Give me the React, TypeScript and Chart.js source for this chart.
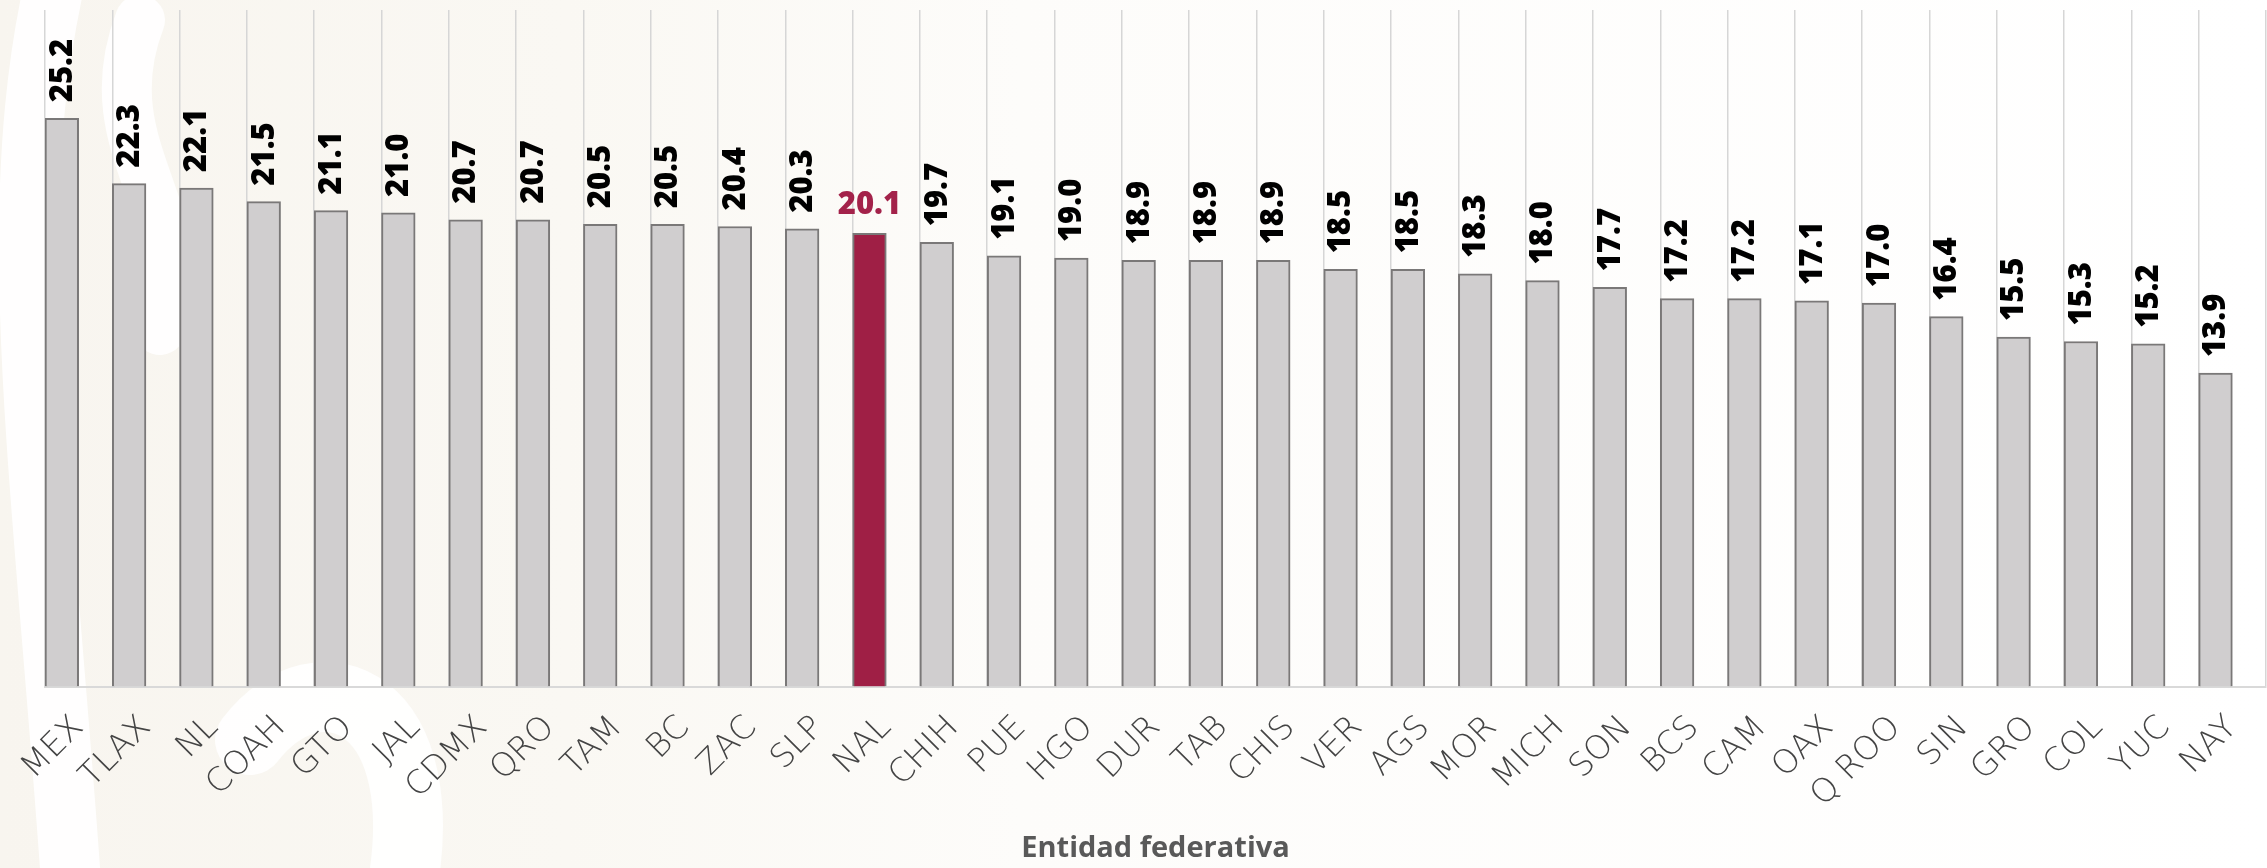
import React, { useEffect, useRef } from "react";
import { Chart, registerables } from "chart.js";

Chart.register(...registerables);

const categories = [
  "MEX", "TLAX", "NL", "COAH", "GTO", "JAL", "CDMX", "QRO", "TAM", "BC", "ZAC",
  "SLP", "NAL", "CHIH", "PUE", "HGO", "DUR", "TAB", "CHIS", "VER", "AGS", "MOR",
  "MICH", "SON", "BCS", "CAM", "OAX", "Q ROO", "SIN", "GRO", "COL", "YUC", "NAY",
];
const values = [
  25.2, 22.3, 22.1, 21.5, 21.1, 21.0, 20.7, 20.7, 20.5, 20.5, 20.4,
  20.3, 20.1, 19.7, 19.1, 19.0, 18.9, 18.9, 18.9, 18.5, 18.5, 18.3,
  18.0, 17.7, 17.2, 17.2, 17.1, 17.0, 16.4, 15.5, 15.3, 15.2, 13.9,
];
const highlightCategory = "NAL";
const xAxisTitle = "Entidad federativa";
const yMin = 0;
const yMax = 30;

const GRAY_FILL = "#d0cecf";
const GRAY_BORDER = "#7a7878";
const CRIMSON = "#9f1f45";
const CRIMSON_TEXT = "#a3224a";

const backgroundPlugin = {
  id: "bgPattern",
  beforeDraw(chart: any) {
    const { ctx, width, height } = chart;
    ctx.save();
    const g = ctx.createLinearGradient(0, 0, width, 0);
    g.addColorStop(0, "#f8f5ef");
    g.addColorStop(0.25, "#faf8f3");
    g.addColorStop(0.45, "#fdfcfa");
    g.addColorStop(1, "#ffffff");
    ctx.fillStyle = g;
    ctx.fillRect(0, 0, width, height);
    // soft white ornamental swirls on the left
    ctx.strokeStyle = "rgba(255,255,255,0.9)";
    ctx.lineCap = "round";
    ctx.lineWidth = 60;
    ctx.beginPath();
    ctx.moveTo(60, -40);
    ctx.bezierCurveTo(0, 200, 40, 450, 70, 868);
    ctx.stroke();
    ctx.lineWidth = 50;
    ctx.beginPath();
    ctx.moveTo(140, 20);
    ctx.bezierCurveTo(90, 150, 200, 210, 160, 330);
    ctx.stroke();
    ctx.lineWidth = 70;
    ctx.beginPath();
    ctx.moveTo(250, 740);
    ctx.bezierCurveTo(320, 650, 440, 700, 400, 900);
    ctx.stroke();
    ctx.restore();
  },
};

const labelPlugin = {
  id: "barValueLabels",
  afterDatasetsDraw(chart: any) {
    const { ctx } = chart;
    const meta = chart.getDatasetMeta(0);
    ctx.save();
    ctx.font = "800 31px 'Open Sans', sans-serif";
    meta.data.forEach((bar: any, i: number) => {
      const v = values[i];
      if (v == null) return;
      const txt = v.toFixed(1);
      const p = bar.getProps(["x", "y"], true);
      if (categories[i] === highlightCategory) {
        ctx.fillStyle = CRIMSON_TEXT;
        ctx.textAlign = "center";
        ctx.textBaseline = "alphabetic";
        ctx.fillText(txt, p.x, p.y - 19);
      } else {
        ctx.save();
        ctx.translate(p.x + 1, p.y - 16);
        ctx.rotate(-Math.PI / 2);
        ctx.fillStyle = "#000000";
        ctx.textAlign = "left";
        ctx.textBaseline = "middle";
        ctx.fillText(txt, 0, 0);
        ctx.restore();
      }
    });
    ctx.restore();
  },
};

export default function App() {
  const canvasRef = useRef<HTMLCanvasElement | null>(null);

  useEffect(() => {
    document.body.style.margin = "0";
    const canvas = canvasRef.current;
    if (!canvas) return;
    const chart = new Chart(canvas, {
      type: "bar",
      data: {
        labels: categories,
        datasets: [
          {
            data: values,
            backgroundColor: categories.map((c) => (c === highlightCategory ? CRIMSON : GRAY_FILL)),
            borderColor: GRAY_BORDER,
            borderWidth: 2,
            categoryPercentage: 1,
            barPercentage: 1,
          },
          {
            data: categories.map(() => null),
            backgroundColor: "rgba(0,0,0,0)",
            categoryPercentage: 1,
            barPercentage: 1,
          },
        ],
      },
      options: {
        responsive: false,
        maintainAspectRatio: false,
        animation: false,
        devicePixelRatio: 1,
        layout: { padding: { left: 45, right: 1, top: 10, bottom: 0 } },
        plugins: {
          legend: { display: false },
          tooltip: { enabled: false },
          title: { display: false },
        },
        scales: {
          y: {
            display: false,
            min: yMin,
            max: yMax,
          },
          x: {
            offset: true,
            grid: {
              display: true,
              offset: true,
              color: "#d6d6d6",
              lineWidth: 1.5,
              drawTicks: false,
            },
            border: { display: true, color: "#d9d9d9", width: 2 },
            ticks: {
              autoSkip: false,
              minRotation: 45,
              maxRotation: 45,
              padding: 22,
              color: "#444444",
              font: { family: "'DejaVu Sans', sans-serif", size: 33, weight: "200" as any },
            },
            title: {
              display: true,
              text: xAxisTitle,
              color: "#595959",
              font: { family: "'Open Sans', sans-serif", size: 29, weight: "bold" },
              padding: { top: 0, bottom: 2 },
            },
            afterFit(scale: any) {
              scale.height = 181.5;
              scale.paddingLeft = 0;
              scale.paddingRight = 0;
            },
          },
        },
      },
      plugins: [backgroundPlugin, labelPlugin],
    });
    return () => chart.destroy();
  }, []);

  return (
    <div style={{ position: "absolute", left: 0, top: 0, width: 2267, height: 868 }}>
      <canvas ref={canvasRef} width={2267} height={868} style={{ display: "block" }} />
    </div>
  );
}
